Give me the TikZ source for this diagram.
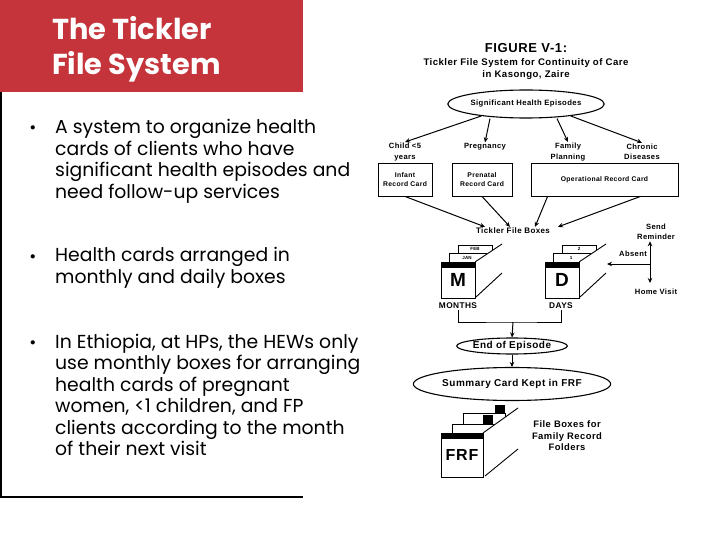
\documentclass[tikz,border=0pt]{standalone}
\usepackage{fontspec}
\setmainfont{Poppins}
\newfontfamily\figfont[LetterSpace=5]{Liberation Sans}
\usetikzlibrary{shapes.geometric, arrows.meta, calc, positioning}
\definecolor{slideRed}{HTML}{C4343A}

\begin{document}
\begin{tikzpicture}[x=1pt, y=-1pt, >={Stealth[length=5pt, width=4.5pt]}]

% --- Styles ---
\tikzset{
    slideText/.style={anchor=base west, inner sep=0pt, align=left, font=\fontsize{18.8}{21.5}\selectfont},
    slideBullet/.style={anchor=base, inner sep=0pt, font=\fontsize{17}{21.5}\selectfont},
    figLabel/.style={align=center, inner sep=1pt, font=\figfont\bfseries\fontsize{7.6}{10.5}\selectfont},
    recordCard/.style={draw=black, line width=0.9pt, minimum height=33pt, inner sep=2pt, align=center, font=\figfont\bfseries\fontsize{6.8}{8.5}\selectfont},
    episode/.style={ellipse, draw=black, line width=1.1pt, inner sep=0pt, font=\figfont\bfseries\fontsize{10}{10}\selectfont},
    flowArrow/.style={->, line width=1pt},
    boxFace/.style={draw=black, line width=0.9pt, fill=white, inner sep=0pt, font=\figfont\bfseries\fontsize{19}{19}\selectfont},
    cardTab/.style={draw=black, line width=0.7pt, fill=white},
    tabText/.style={inner sep=0pt, font=\figfont\bfseries\fontsize{4.5}{5}\selectfont},
}

\useasboundingbox (0,0) rectangle (720,540);

% --- Slide side ---
% (multi-line nodes sit on the baseline of their last line)
\fill[slideRed] (0,0) rectangle (303,92);
\node[anchor=base west, inner sep=0pt, text=white, align=left, font=\bfseries\fontsize{28.8}{34.5}\selectfont] (title) at (52,74.5) {The Tickler\\File System};
\draw[line width=1.3pt] (1,92) -- (1,497) -- (303,497);

\node[slideBullet] (b1) at (33,134) {\textbullet};
\node[slideText] (t1) at (55,198.5) {A system to organize health\\cards of clients who have\\significant health episodes and\\need follow-up services};
\node[slideBullet] (b2) at (33,262) {\textbullet};
\node[slideText] (t2) at (55,283.5) {Health cards arranged in\\monthly and daily boxes};
\node[slideBullet] (b3) at (33,348) {\textbullet};
\node[slideText] (t3) at (55,455.5) {In Ethiopia, at HPs, the HEWs only\\use monthly boxes for arranging\\health cards of pregnant\\women, <1 children, and FP\\clients according to the month\\of their next visit};

% --- Figure heading ---
\node[inner sep=0pt, font=\figfont\bfseries\fontsize{13}{13}\selectfont] (figTitle) at (526,48) {FIGURE V-1:};
\node[figLabel, font=\figfont\bfseries\fontsize{9.6}{12}\selectfont] (figCaption) at (526,69) {Tickler File System for Continuity of Care\\in Kasongo, Zaire};

% --- Episodes and cards ---
\node[episode, minimum width=136pt, minimum height=28pt, font=\figfont\bfseries\fontsize{7.7}{8}\selectfont] (healthEp) at (526,104) {Significant Health Episodes};

\node[figLabel] (child) at (405,152) {Child <5\\years};
\node[figLabel] (pregnancy) at (485,147) {Pregnancy};
\node[figLabel] (famPlan) at (568,152) {Family\\Planning};
\node[figLabel] (chronic) at (642,152) {Chronic\\Diseases};

\draw[flowArrow] (healthEp.195) -- (child.north);
\draw[flowArrow] ([xshift=-36pt]healthEp.south) -- (pregnancy.north);
\draw[flowArrow] ([xshift=31pt]healthEp.south) -- (famPlan.north);
\draw[flowArrow] (healthEp.345) -- (chronic.north);

\node[recordCard, minimum width=54pt] (infantCard) at (405,179.5) {Infant\\Record Card};
\node[recordCard, minimum width=60pt] (prenatalCard) at (482,179.5) {Prenatal\\Record Card};
\node[recordCard, minimum width=147pt] (operCard) at (604.5,179.5) {Operational Record Card};

\node[figLabel, font=\figfont\bfseries\fontsize{8}{9}\selectfont] (ticklerBoxes) at (513,231) {Tickler File Boxes};
\draw[flowArrow] (infantCard.south) -- ([xshift=-28pt]ticklerBoxes.north);
\draw[flowArrow] (prenatalCard.south) -- ([xshift=-3pt]ticklerBoxes.north);
\draw[flowArrow] ([xshift=17pt]operCard.south west) -- ([xshift=22pt]ticklerBoxes.north);
\draw[flowArrow] ([xshift=-38pt]operCard.south east) -- ([xshift=45pt]ticklerBoxes.north);

% --- Monthly and daily boxes ---
\foreach \bx/\letter/\cardA/\cardB/\nm in {0/M/JAN/FEB/m, 104/D/1/2/d} {
  \begin{scope}[xshift=\bx pt]
    \filldraw[cardTab] (458,245) rectangle (492,262);
    \node[tabText] (\nm CardB) at (475,249) {\cardB};
    \filldraw[cardTab] (449,253) rectangle (486,262);
    \node[tabText] (\nm CardA) at (467,257.5) {\cardA};
    % side of the box
    \fill[white] (475,262) -- (502,244) -- (502,273) -- (476,298) -- cycle;
    \draw[line width=0.9pt] (475,262) -- (502,244) (476,297) -- (502,273);
    \node[boxFace, minimum width=34pt, minimum height=36pt] (\nm Box) at (458,280) {\letter};
    \fill (\nm Box.north west) rectangle ([yshift=-6pt]\nm Box.north east);
  \end{scope}
}

\node[figLabel, font=\figfont\bfseries\fontsize{8.3}{9}\selectfont] (months) at (458,306) {MONTHS};
\node[figLabel, font=\figfont\bfseries\fontsize{8.3}{9}\selectfont] (days) at (561,306) {DAYS};

\coordinate (boxJoin) at (513,322);
\draw[line width=1pt] (months.south) |- (boxJoin) -| (days.south);

% --- Absent branch ---
\coordinate (absentHub) at (650,264);
\coordinate (dSide) at (607,264);
\node[figLabel] (absent) at (633,254) {Absent};
\node[figLabel] (reminder) at (656,232) {Send\\Reminder};
\node[figLabel] (homeVisit) at (656,292) {Home Visit};
\draw[flowArrow] (absentHub) -- (dSide);
\draw[flowArrow] (absentHub) -- (absentHub |- reminder.south);
\draw[flowArrow, shorten >=5pt] (absentHub) -- (absentHub |- homeVisit.north);

% --- End of episode ---
\node[episode, minimum width=110pt, minimum height=16pt] (endEp) at (512,346) {End of Episode};
\node[episode, minimum width=170pt, minimum height=33pt] (summaryCard) at (512,384) {Summary Card Kept in FRF};
\draw[flowArrow] (boxJoin) -- (endEp.north);
\draw[flowArrow] (endEp.south) -- (summaryCard.north);

% --- FRF box ---
\filldraw[cardTab] (463,413) rectangle (505,440);
\fill (495,405) rectangle (505,413);
\filldraw[cardTab] (452,424) rectangle (493,440);
\fill (483,415) rectangle (493,424);
\fill[white] (483,433) -- (518,408) -- (518,449) -- (485,477) -- cycle;
\draw[line width=0.9pt] (483,433) -- (518,408) (485,476) -- (518,449);
\node[boxFace, minimum width=42pt, minimum height=44pt, font=\figfont\bfseries\fontsize{16}{16}\selectfont] (frfBox) at (462,455) {FRF};
\fill (frfBox.north west) rectangle ([yshift=-6pt]frfBox.north east);
\node[figLabel, font=\figfont\bfseries\fontsize{9.4}{11.5}\selectfont] (frfNote) at (567,436) {File Boxes for\\Family Record\\Folders};

\end{tikzpicture}
\end{document}
